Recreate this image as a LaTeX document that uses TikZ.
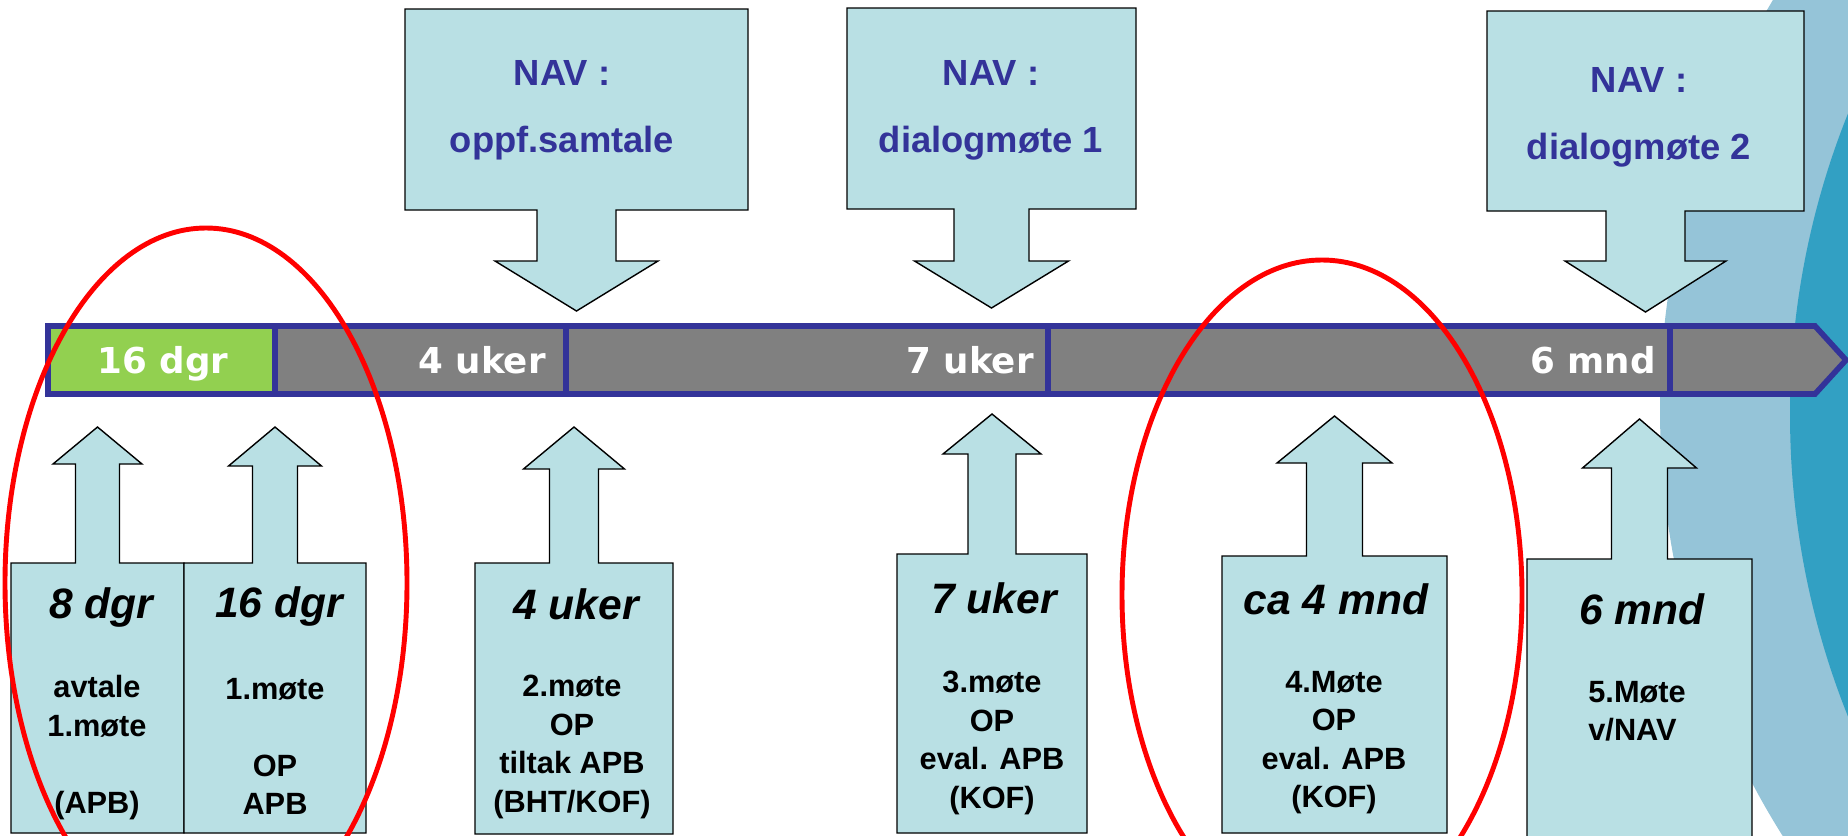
\documentclass[tikz,border=0pt]{standalone}
\usepackage{fontspec}
\setmainfont{Liberation Sans}
\newfontfamily\barfont{DejaVu Sans}
\definecolor{boxfill}{RGB}{185,224,228}
\definecolor{navblue}{RGB}{51,51,153}
\definecolor{bargray}{RGB}{128,128,128}
\definecolor{bargreen}{RGB}{146,208,80}
\definecolor{bglight}{RGB}{149,196,216}
\definecolor{bgdark}{RGB}{50,160,195}

\begin{document}
\begin{tikzpicture}
[x=0.02cm,y=-0.02cm,%
  callout/.style={draw=black,fill=boxfill,line width=0.8pt},%
  navtext/.style={text=navblue,font=\fontsize{20.7}{38.1}\selectfont\bfseries,align=center,inner sep=0pt,anchor=north},%
  whentext/.style={font=\fontsize{24.2}{29}\selectfont\bfseries\itshape,inner sep=0pt,anchor=base},%
  bodytext/.style={font=\fontsize{17.5}{21.9}\selectfont\bfseries,align=center,inner sep=0pt,anchor=north},%
  bartext/.style={text=white,font=\barfont\fontsize{20.3}{24}\selectfont\bfseries,inner sep=0pt},%
  barline/.style={draw=navblue,line width=3.2pt},%
  ring/.style={draw=red,line width=2.8pt}]
\useasboundingbox (0,0) rectangle (1848,835);
\clip (0,0) rectangle (1848,835);
\fill[white] (0,0) rectangle (1848,835);
\fill[bglight] (2460,410) circle[radius=800];
\fill[bgdark] (2600,415) circle[radius=810];

% tidslinje
\draw[barline,fill=bargray] (48,326) -- (1815,326) -- (1846,360) -- (1815,394) -- (48,394) -- cycle;
\draw[barline,fill=bargreen] (48,326) rectangle (275,394);
\foreach \x in {566,1048,1670}
  \draw[barline] (\x,326) -- (\x,394);
\node[bartext,anchor=base] (b16dgr) at (163,373) {16 dgr};
\node[bartext,anchor=base east] (b4uker) at (546,373) {4 uker};
\node[bartext,anchor=base east] (b7uker) at (1034,373) {7 uker};
\node[bartext,anchor=base east] (b6mnd) at (1656,373) {6 mnd};

% NAV ovenfor
\foreach \c/\l/\r/\t/\b/\s/\h/\hb/\tip in {576.5/405/748/9/210/39.5/81.5/261/311,%
    991.5/847/1136/8/209/37.5/77/261/308,1645.5/1487/1804/11/211/39.5/80.5/261/312}
  \draw[callout] (\l,\t) -- (\r,\t) -- (\r,\b) -- ({\c+\s},\b) -- ({\c+\s},\hb) -- ({\c+\h},\hb)
    -- (\c,\tip) -- ({\c-\h},\hb) -- ({\c-\s},\hb) -- ({\c-\s},\b) -- (\l,\b) -- cycle;
\node[navtext] (navoppf) at (562,60) {NAV :\\oppf.samtale};
\node[navtext] (navdia1) at (991,60) {NAV :\\dialogmøte 1};
\node[navtext] (navdia2) at (1639,67) {NAV :\\dialogmøte 2};

% møter nedenfor
\foreach \c/\l/\r/\t/\b/\s/\h/\hb/\tip in {97.5/11/184/563/833/22/44.5/464/427,%
    275/184/366/563/833/22.5/46.5/466/427,574/475/673/563/834/24.5/50.5/469/427,%
    992/897/1087/554/833/24/49/454/414,1334.5/1222/1447/556/833/28/57.5/463/416,%
    1639.5/1527/1752/559/845/28/57/468/419}
  \draw[callout] (\l,\b) -- (\l,\t) -- ({\c-\s},\t) -- ({\c-\s},\hb) -- ({\c-\h},\hb) -- (\c,\tip)
    -- ({\c+\h},\hb) -- ({\c+\s},\hb) -- ({\c+\s},\t) -- (\r,\t) -- (\r,\b) -- cycle;
\node[whentext] (w8dgr) at (101,618) {8 dgr};
\node[whentext] (w16dgr) at (279,617) {16 dgr};
\node[whentext] (w4uker) at (576,619) {4 uker};
\node[whentext] (w7uker) at (994,613) {7 uker};
\node[whentext] (wca4mnd) at (1336,614) {ca 4 mnd};
\node[whentext] (w6mnd) at (1642,624) {6 mnd};
\node[bodytext] (m0) at (97,675) {avtale\\1.møte\\[21.9pt](APB)};
\node[bodytext] (m1) at (275,678) {1.møte\\[21.9pt]OP\\APB};
\node[bodytext] (m2) at (572,675) {2.møte\\OP\\tiltak APB\\(BHT/KOF)};
\node[bodytext] (m3) at (992,671) {3.møte\\OP\\eval. APB\\(KOF)};
\node[bodytext] (m4) at (1334,671) {4.Møte\\OP\\eval. APB\\(KOF)};
\node[bodytext,align=left,anchor=north west] (m5) at (1588,681) {5.Møte\\v/NAV};

% ringer
\draw[ring] (206,583) ellipse [x radius=201, y radius=355];
\draw[ring] (1322,595) ellipse [x radius=200, y radius=335];
\end{tikzpicture}
\end{document}
